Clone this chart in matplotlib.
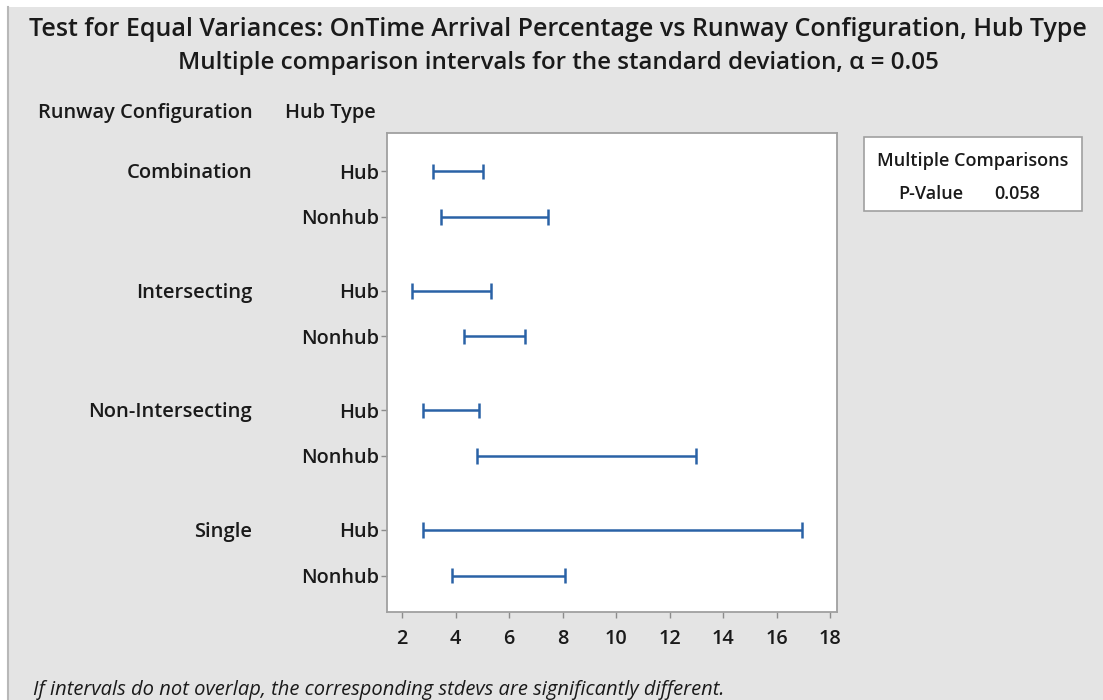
"""Test for equal variances: multiple comparison intervals."""
import matplotlib.pyplot as plt
from matplotlib.patches import Rectangle
from matplotlib.lines import Line2D

plt.rcParams['font.family'] = ['Open Sans', 'DejaVu Sans']

configs = ['Combination', 'Intersecting', 'Non-Intersecting', 'Single']
hub_types = ['Hub', 'Nonhub']
lower = [3.16, 3.45, 2.37, 4.31, 2.80, 4.81, 2.80, 3.87]
upper = [5.02, 7.46, 5.31, 6.60, 4.88, 12.98, 16.93, 8.10]
p_value = 0.058

BG = '#e4e4e4'
BLUE = '#2a62a6'
TXT = '#1a1a1a'
GAP = 2.62

fig = plt.figure(figsize=(11.03, 7.0), dpi=100, facecolor='white')
fig.patches.append(Rectangle((7 / 1103, 0), 1, 1 - 7 / 700, transform=fig.transFigure,
                             facecolor=BG, edgecolor='none', zorder=-1))
fig.lines.append(Line2D([7.5 / 1103, 7.5 / 1103], [0, 1 - 7 / 700], transform=fig.transFigure,
                        color='#b8b8b8', lw=1.5))

ax = fig.add_axes([387 / 1103, 1 - 612 / 700, 450 / 1103, 479 / 700])
ax.set_facecolor('white')

ypos = []
for g in range(len(configs)):
    for i in range(len(hub_types)):
        ypos.append(g * GAP + i)

for y, lo, hi in zip(ypos, lower, upper):
    ax.plot([lo, hi], [y, y], color=BLUE, lw=1.8, solid_capstyle='butt')
    ax.plot([lo, lo], [y - 0.17, y + 0.17], color=BLUE, lw=1.8, solid_capstyle='butt')
    ax.plot([hi, hi], [y - 0.17, y + 0.17], color=BLUE, lw=1.8, solid_capstyle='butt')

ax.set_xlim(1.44, 18.25)
ax.set_ylim(ypos[-1] + 0.8, -0.84)
ax.set_xticks(range(2, 19, 2))
ax.set_yticks(ypos)
ax.set_yticklabels(hub_types * len(configs))
ax.tick_params(axis='both', labelsize=14.3, colors='#8c8c8c', labelcolor=TXT,
               length=4, width=1, pad=2)
ax.tick_params(axis='x', pad=8)
for lab in ax.get_xticklabels() + ax.get_yticklabels():
    lab.set_fontweight('semibold')
for s in ax.spines.values():
    s.set_color('#a0a0a0')
    s.set_linewidth(1.3)

# group labels
for g, name in enumerate(configs):
    y = ax.transData.transform((0, g * GAP))[1]
    fig.text(252 / 1103, (y - 2) / 700, name, ha='right', va='center', fontsize=14.5,
             fontweight='semibold', color=TXT)

fig.text(145 / 1103, 1 - 113 / 700, 'Runway Configuration', ha='center', va='center',
         fontsize=14.4, fontweight='semibold', color=TXT)
fig.text(330 / 1103, 1 - 113 / 700, 'Hub Type', ha='center', va='center',
         fontsize=14.4, fontweight='semibold', color=TXT)

fig.text(558 / 1103, 1 - 30 / 700,
         'Test for Equal Variances: OnTime Arrival Percentage vs Runway Configuration, Hub Type',
         ha='center', va='center', fontsize=18, fontweight='semibold', color=TXT)
fig.text(558 / 1103, 1 - 63 / 700,
         'Multiple comparison intervals for the standard deviation, \u03b1 = 0.05',
         ha='center', va='center', fontsize=17.4, fontweight='semibold', color=TXT)

# legend box
fig.patches.append(Rectangle((864 / 1103, 1 - 211 / 700), 218 / 1103, 74 / 700,
                             transform=fig.transFigure, facecolor='white',
                             edgecolor='#a0a0a0', linewidth=1.2))
fig.text(973 / 1103, 1 - 161 / 700, 'Multiple Comparisons', ha='center', va='center',
         fontsize=13, fontweight='semibold', color=TXT)
fig.text(931 / 1103, 1 - 194 / 700, 'P-Value', ha='center', va='center',
         fontsize=13, fontweight='semibold', color=TXT)
fig.text(1017 / 1103, 1 - 194 / 700, f'{p_value:.3f}', ha='center', va='center',
         fontsize=13, fontweight='semibold', color=TXT)

fig.text(33 / 1103, 1 - 690 / 700,
         'If intervals do not overlap, the corresponding stdevs are significantly different.',
         ha='left', va='center', fontsize=14.5, style='italic', color=TXT)

fig.savefig('out.png', dpi=100, facecolor=fig.get_facecolor())
